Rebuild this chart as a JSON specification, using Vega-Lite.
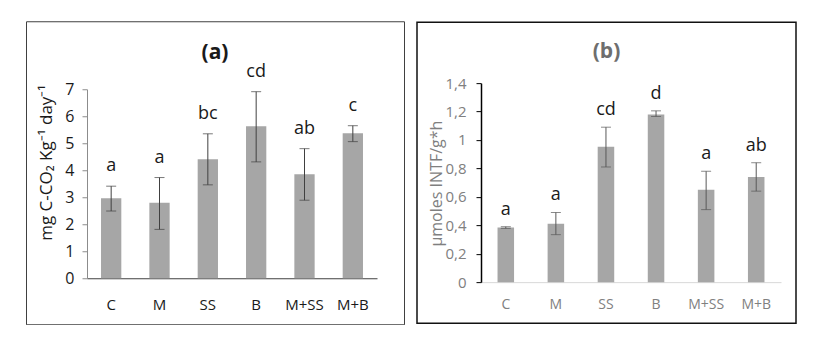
{
  "$schema": "https://vega.github.io/schema/vega-lite/v6.json",
  "padding": {"left": 25, "top": 20, "right": 0, "bottom": 0},
  "background": "white",
  "config": {"font": "Open Sans", "view": {"stroke": null}},
  "spacing": 11,
  "center": true,
  "datasets": {
    "a": [
      {"treatment": "C", "value": 2.96, "low": 2.49, "high": 3.41, "letter": "a"},
      {"treatment": "M", "value": 2.80, "low": 1.81, "high": 3.73, "letter": "a"},
      {"treatment": "SS", "value": 4.41, "low": 3.46, "high": 5.35, "letter": "bc"},
      {"treatment": "B", "value": 5.63, "low": 4.31, "high": 6.91, "letter": "cd"},
      {"treatment": "M+SS", "value": 3.85, "low": 2.89, "high": 4.80, "letter": "ab"},
      {"treatment": "M+B", "value": 5.37, "low": 5.06, "high": 5.65, "letter": "c"}
    ],
    "b": [
      {"treatment": "C", "value": 0.384, "low": 0.378, "high": 0.39, "letter": "a"},
      {"treatment": "M", "value": 0.41, "low": 0.334, "high": 0.49, "letter": "a"},
      {"treatment": "SS", "value": 0.953, "low": 0.81, "high": 1.09, "letter": "cd"},
      {"treatment": "B", "value": 1.18, "low": 1.165, "high": 1.205, "letter": "d"},
      {"treatment": "M+SS", "value": 0.65, "low": 0.51, "high": 0.78, "letter": "a"},
      {"treatment": "M+B", "value": 0.74, "low": 0.64, "high": 0.84, "letter": "ab"}
    ]
  },
  "hconcat": [
    {
      "width": 378,
      "height": 303,
      "view": {"stroke": "#404040", "strokeWidth": 1, "fill": "white"},
      "title": {"text": "(a)", "fontSize": 21, "fontWeight": "bold", "color": "#1a1a1a", "offset": -53, "baseline": "middle", "anchor": "middle", "font": "Open Sans"},
      "data": {"name": "a"},
      "encoding": {
        "x": {
          "field": "treatment", "type": "nominal", "sort": null,
          "scale": {"range": [61, 351], "paddingInner": 0.58, "paddingOuter": 0.29},
          "axis": {"title": null, "labelAngle": 0, "offset": -46, "domainColor": "#404040", "ticks": false, "labelPadding": 19, "labelFontSize": 15, "labelColor": "#1a1a1a", "labelFont": "Open Sans"}
        }
      },
      "layer": [
        {
          "mark": {"type": "bar", "color": "#a6a6a6"},
          "encoding": {
            "y": {
              "field": "value", "type": "quantitative",
              "scale": {"domain": [0, 7], "range": [257, 68], "nice": false},
              "axis": {"values": [0, 1, 2, 3, 4, 5, 6, 7], "offset": -61, "grid": false, "domainColor": "#8c8c8c", "tickColor": "#8c8c8c", "tickSize": 5, "labelPadding": 8, "labelFontSize": 16, "labelColor": "#1a1a1a", "labelFont": "Open Sans",
                "title": "mg C-CO₂ Kg⁻¹ day⁻¹", "titleFontSize": 17, "titleFontWeight": "normal", "titleColor": "#1a1a1a", "titleFont": "Open Sans", "titleX": -41, "titleY": 141, "titleBaseline": "middle", "titleAlign": "center", "titleAngle": 270}
            }
          }
        },
        {
          "mark": {"type": "rule", "color": "#404040", "strokeWidth": 1},
          "encoding": {"y": {"field": "low", "type": "quantitative"}, "y2": {"field": "high"}}
        },
        {
          "mark": {"type": "tick", "color": "#404040", "size": 10, "thickness": 1},
          "encoding": {"y": {"field": "low", "type": "quantitative"}}
        },
        {
          "mark": {"type": "tick", "color": "#404040", "size": 10, "thickness": 1},
          "encoding": {"y": {"field": "high", "type": "quantitative"}}
        },
        {
          "mark": {"type": "text", "fontSize": 18, "color": "#1a1a1a", "baseline": "middle", "dy": -20, "font": "Open Sans"},
          "encoding": {"y": {"field": "high", "type": "quantitative"}, "text": {"field": "letter"}}
        }
      ]
    },
    {
      "width": 379,
      "height": 301,
      "view": {"stroke": "#111111", "strokeWidth": 1.5, "fill": "white"},
      "title": {"text": "(b)", "fontSize": 21, "fontWeight": "bold", "color": "#6e6e6e", "offset": -51, "baseline": "middle", "anchor": "middle", "font": "Open Sans"},
      "data": {"name": "b"},
      "encoding": {
        "x": {
          "field": "treatment", "type": "nominal", "sort": null,
          "scale": {"range": [64, 364], "paddingInner": 0.67, "paddingOuter": 0.33},
          "axis": {"title": null, "labelAngle": 0, "offset": -41, "domainColor": "#d9d9d9", "ticks": false, "labelPadding": 15, "labelFontSize": 14, "labelColor": "#808080", "labelFont": "Open Sans"}
        }
      },
      "layer": [
        {
          "mark": {"type": "bar", "color": "#a6a6a6"},
          "encoding": {
            "y": {
              "field": "value", "type": "quantitative",
              "scale": {"domain": [0, 1.4], "range": [260, 61], "nice": false},
              "axis": {"values": [0, 0.2, 0.4, 0.6, 0.8, 1, 1.2, 1.4], "labelExpr": "replace(format(datum.value, '~g'), '.', ',')", "offset": -64, "grid": false, "domainColor": "#000000", "domainWidth": 1.5, "tickColor": "#000000", "tickSize": 5, "labelPadding": 10, "labelFontSize": 15, "labelColor": "#808080", "labelFont": "Open Sans",
                "title": "µmoles INTF/g*h", "titleFontSize": 16, "titleFontWeight": "normal", "titleColor": "#7f7f7f", "titleFont": "Open Sans", "titleX": -45, "titleY": 161, "titleBaseline": "middle", "titleAlign": "center", "titleAngle": 270}
            }
          }
        },
        {
          "mark": {"type": "rule", "color": "#595959", "strokeWidth": 1},
          "encoding": {"y": {"field": "low", "type": "quantitative"}, "y2": {"field": "high"}}
        },
        {
          "mark": {"type": "tick", "color": "#595959", "size": 10, "thickness": 1},
          "encoding": {"y": {"field": "low", "type": "quantitative"}}
        },
        {
          "mark": {"type": "tick", "color": "#595959", "size": 10, "thickness": 1},
          "encoding": {"y": {"field": "high", "type": "quantitative"}}
        },
        {
          "mark": {"type": "text", "fontSize": 18, "color": "#1a1a1a", "baseline": "middle", "dy": -17, "font": "Open Sans"},
          "encoding": {"y": {"field": "high", "type": "quantitative"}, "text": {"field": "letter"}}
        }
      ]
    }
  ]
}
